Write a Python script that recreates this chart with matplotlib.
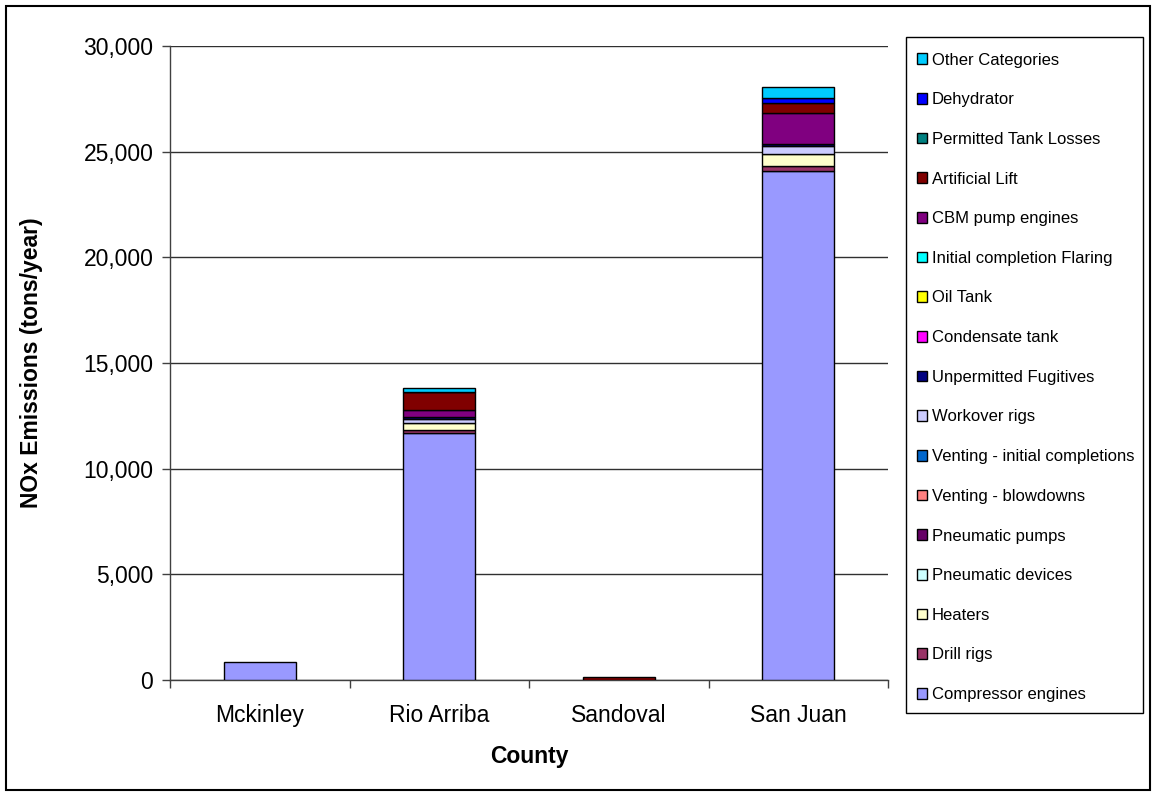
import matplotlib
matplotlib.use("Agg")
import matplotlib.pyplot as plt
from matplotlib.patches import Rectangle, Patch
from matplotlib.ticker import FuncFormatter, FixedLocator
import numpy as np

plt.rcParams['font.family'] = ['Liberation Sans', 'DejaVu Sans']

counties = ["Mckinley", "Rio Arriba", "Sandoval", "San Juan"]

categories = [
    "Compressor engines", "Drill rigs", "Heaters", "Pneumatic devices",
    "Pneumatic pumps", "Venting - blowdowns", "Venting - initial completions",
    "Workover rigs", "Unpermitted Fugitives", "Condensate tank", "Oil Tank",
    "Initial completion Flaring", "CBM pump engines", "Artificial Lift",
    "Permitted Tank Losses", "Dehydrator", "Other Categories",
]

colors = [
    "#9999FF", "#993366", "#FFFFCC", "#CCFFFF",
    "#660066", "#FF8080", "#0066CC",
    "#CCCCFF", "#000080", "#FF00FF", "#FFFF00",
    "#00FFFF", "#800080", "#800000",
    "#008080", "#0000FF", "#00CCFF",
]

# values per category: [Mckinley, Rio Arriba, Sandoval, San Juan]
compressor_engines = [850, 11670, 0, 24100]
drill_rigs = [0, 150, 0, 240]
heaters = [0, 345, 0, 550]
pneumatic_devices = [0, 0, 0, 0]
pneumatic_pumps = [0, 0, 0, 0]
venting_blowdowns = [0, 0, 0, 0]
venting_initial = [0, 0, 0, 0]
workover_rigs = [0, 200, 0, 380]
unpermitted_fugitives = [0, 70, 0, 80]
condensate_tank = [0, 0, 0, 0]
oil_tank = [0, 0, 0, 0]
initial_flaring = [0, 0, 0, 0]
cbm_pump_engines = [0, 350, 0, 1470]
artificial_lift = [0, 820, 160, 490]
permitted_tank_losses = [0, 0, 0, 0]
dehydrator = [0, 30, 0, 240]
other_categories = [0, 200, 0, 520]

series = [
    compressor_engines, drill_rigs, heaters, pneumatic_devices,
    pneumatic_pumps, venting_blowdowns, venting_initial,
    workover_rigs, unpermitted_fugitives, condensate_tank, oil_tank,
    initial_flaring, cbm_pump_engines, artificial_lift,
    permitted_tank_losses, dehydrator, other_categories,
]

W, H = 1155, 796
fig = plt.figure(figsize=(W / 100, H / 100), dpi=100)
fig.patch.set_facecolor("white")

ax = fig.add_axes([170 / W, 1 - 680 / H, (888 - 170) / W, (680 - 46) / H])

x = np.arange(len(counties))
bottom = np.zeros(len(counties))
handles = []
for name, vals, col in zip(categories, series, colors):
    v = np.array(vals, dtype=float)
    edge = ["black" if vi > 0 else "none" for vi in v]
    ax.bar(x, v, width=0.4, bottom=bottom, color=col, edgecolor=edge,
           linewidth=1.0, zorder=3)
    bottom += v
    handles.append(Patch(facecolor=col, edgecolor="black", linewidth=1.0, label=name))

ax.set_xlim(-0.5, 3.5)
ax.set_ylim(0, 30000)
ax.yaxis.set_major_locator(FixedLocator([0, 5000, 10000, 15000, 20000, 25000, 30000]))
ax.yaxis.set_major_formatter(FuncFormatter(lambda v, p: f"{int(v):,}"))
ax.grid(axis="y", color="#303030", linewidth=1.0, zorder=0)
ax.set_axisbelow(True)

for s in ["top", "right"]:
    ax.spines[s].set_visible(False)
for s in ["left", "bottom"]:
    ax.spines[s].set_color("#404040")
    ax.spines[s].set_linewidth(1.0)

ax.set_xticks(x)
ax.set_xticklabels(counties)
ax.set_xticks([-0.5, 0.5, 1.5, 2.5, 3.5], minor=True)
ax.tick_params(axis="x", which="major", length=0, pad=17, labelsize=16.5)
ax.tick_params(axis="x", which="minor", length=6, width=1, color="#404040", direction="out")
ax.tick_params(axis="y", which="major", length=6, width=1, color="#404040",
               direction="out", labelsize=16.5, pad=6)

ax.set_xlabel("County", fontsize=16.5, fontweight="bold", labelpad=13)
ax.set_ylabel("NOx Emissions (tons/year)", fontsize=16.5, fontweight="bold", labelpad=29)

leg = fig.legend(handles=handles[::-1], loc="upper left",
                 bbox_to_anchor=(917 / W, 1 - 52.5 / H), bbox_transform=fig.transFigure,
                 fontsize=12, frameon=False, labelspacing=1.48, handlelength=0.62,
                 handleheight=0.62, handletextpad=0.28, borderpad=0,
                 borderaxespad=0)

# legend box
fig.patches.append(Rectangle((906 / W, 1 - 713 / H), (1143 - 906) / W, (713 - 37) / H,
                             transform=fig.transFigure, fill=False,
                             edgecolor="black", linewidth=1.0))

# outer chart border
fig.patches.append(Rectangle((6 / W, 1 - 790 / H), (1150 - 6) / W, (790 - 6) / H,
                             transform=fig.transFigure, fill=False,
                             edgecolor="black", linewidth=1.5))

fig.savefig("out.png", dpi=100, facecolor="white")
